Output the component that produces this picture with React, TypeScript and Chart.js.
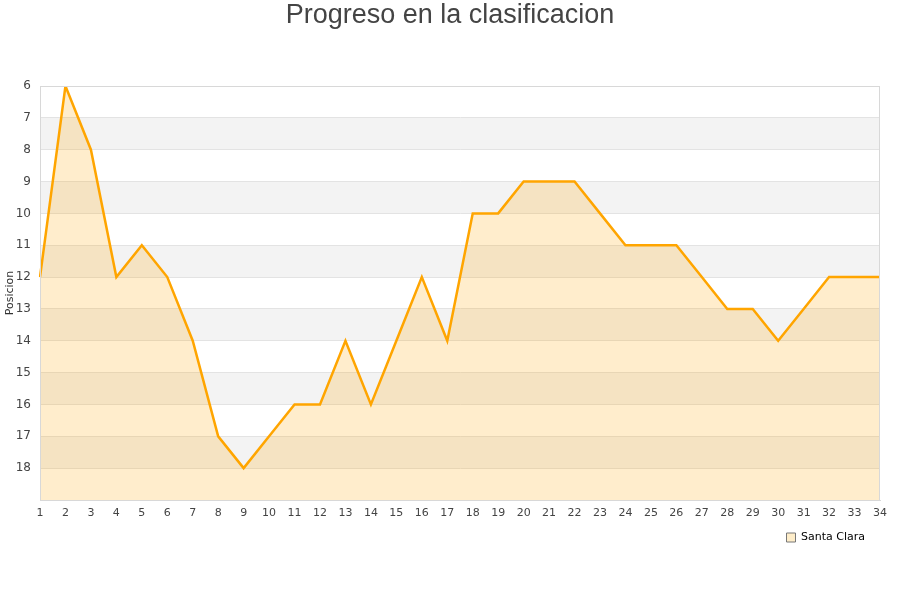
import React, { useEffect, useRef } from "react";
import { Chart, registerables } from "chart.js";

Chart.register(...registerables);

const jornadas: string[] = Array.from({ length: 34 }, (_, i) => String(i + 1));
const posiciones: number[] = [12, 6, 8, 12, 11, 12, 14, 17, 18, 17, 16, 16, 14, 16, 14, 12, 14, 10, 10, 9, 9, 9, 10, 11, 11, 11, 12, 13, 13, 14, 13, 12, 12, 12];
const seriesName = "Santa Clara";
const titleText = "Progreso en la clasificacion";
const yTitle = "Posicion";
const yMin = 6;
const yMax = 19;

const bandsPlugin = {
  id: "bands",
  beforeDraw(chart: any) {
    const { ctx, chartArea } = chart;
    const y = chart.scales.y;
    ctx.save();
    ctx.fillStyle = "#ffffff";
    ctx.fillRect(chartArea.left, chartArea.top, chartArea.right - chartArea.left, chartArea.bottom - chartArea.top);
    ctx.fillStyle = "#f3f3f3";
    for (let v = yMin; v < yMax; v++) {
      if (v % 2 === 1) {
        const p1 = y.getPixelForValue(v);
        const p2 = y.getPixelForValue(v + 1);
        ctx.fillRect(chartArea.left, Math.min(p1, p2), chartArea.right - chartArea.left, Math.abs(p2 - p1));
      }
    }
    ctx.restore();
  },
  afterDatasetsDraw(chart: any) {
    const { ctx, chartArea } = chart;
    ctx.save();
    ctx.strokeStyle = "#d8d8d8";
    ctx.lineWidth = 1;
    ctx.strokeRect(Math.round(chartArea.left) + 0.5, Math.round(chartArea.top) + 0.5, Math.round(chartArea.right - chartArea.left) - 1, Math.round(chartArea.bottom - chartArea.top));
    ctx.restore();
  },
  afterDraw(chart: any) {
    const { ctx, width } = chart;
    ctx.save();
    ctx.fillStyle = "#444";
    ctx.font = "27px 'Liberation Sans', Arial, sans-serif";
    ctx.textAlign = "center";
    ctx.textBaseline = "middle";
    ctx.fillText(titleText, width / 2, 16);
    ctx.restore();
  },
};

export default function App() {
  const ref = useRef<HTMLCanvasElement | null>(null);
  useEffect(() => {
    if (!ref.current) return;
    const chart = new Chart(ref.current, {
      type: "line",
      data: {
        labels: jornadas,
        datasets: [
          {
            label: seriesName,
            data: posiciones,
            borderColor: "#ffa500",
            backgroundColor: "rgba(255,165,0,0.2)",
            borderWidth: 2.5,
            pointRadius: 0,
            tension: 0,
            fill: { value: yMax },
          },
        ],
      },
      options: {
        animation: false,
        responsive: false,
        maintainAspectRatio: false,
        layout: { padding: { left: 0, right: 20, top: 86, bottom: 47 } },
        plugins: {
          title: { display: false },
          legend: {
            position: "bottom",
            align: "end",
            labels: {
              boxWidth: 9,
              boxHeight: 9,
              padding: 15,
              color: "#000",
              font: { family: "'DejaVu Sans', sans-serif", size: 11 },
              generateLabels: () => [
                { text: seriesName, fillStyle: "#feedc9", strokeStyle: "#777", lineWidth: 1, hidden: false, datasetIndex: 0 } as any,
              ],
            },
          },
          tooltip: { enabled: false },
        },
        scales: {
          x: {
            type: "category",
            offset: false,
            grid: { display: false, drawTicks: false },
            border: { display: true, color: "#d8d8d8" },
            ticks: {
              color: "#444",
              font: { family: "'DejaVu Sans', sans-serif", size: 11 },
              padding: 7,
              maxRotation: 0,
              autoSkip: false,
            },
            afterFit: (s: any) => {
              s.height = 17;
            },
          },
          y: {
            type: "linear",
            reverse: true,
            min: yMin,
            max: yMax,
            grid: { color: "#e3e3e3", drawTicks: false },
            border: { display: true, color: "#d8d8d8" },
            ticks: {
              stepSize: 1,
              color: "#444",
              font: { family: "'DejaVu Sans', sans-serif", size: 12 },
              padding: 9,
              callback: (v: any) => (Number(v) === yMax ? "" : String(v)),
            },
            title: {
              display: true,
              text: yTitle,
              color: "#333",
              font: { family: "'DejaVu Sans', sans-serif", size: 11 },
              padding: { top: 4, bottom: 0 },
            },
            afterFit: (s: any) => {
              s.width = 40;
            },
          },
        },
      },
      plugins: [bandsPlugin],
    });
    return () => chart.destroy();
  }, []);
  return (
    <div style={{ position: "fixed", left: 0, top: 0, width: 900, height: 600, background: "#fff" }}>
      <canvas ref={ref} width={900} height={600} style={{ display: "block" }} />
    </div>
  );
}
